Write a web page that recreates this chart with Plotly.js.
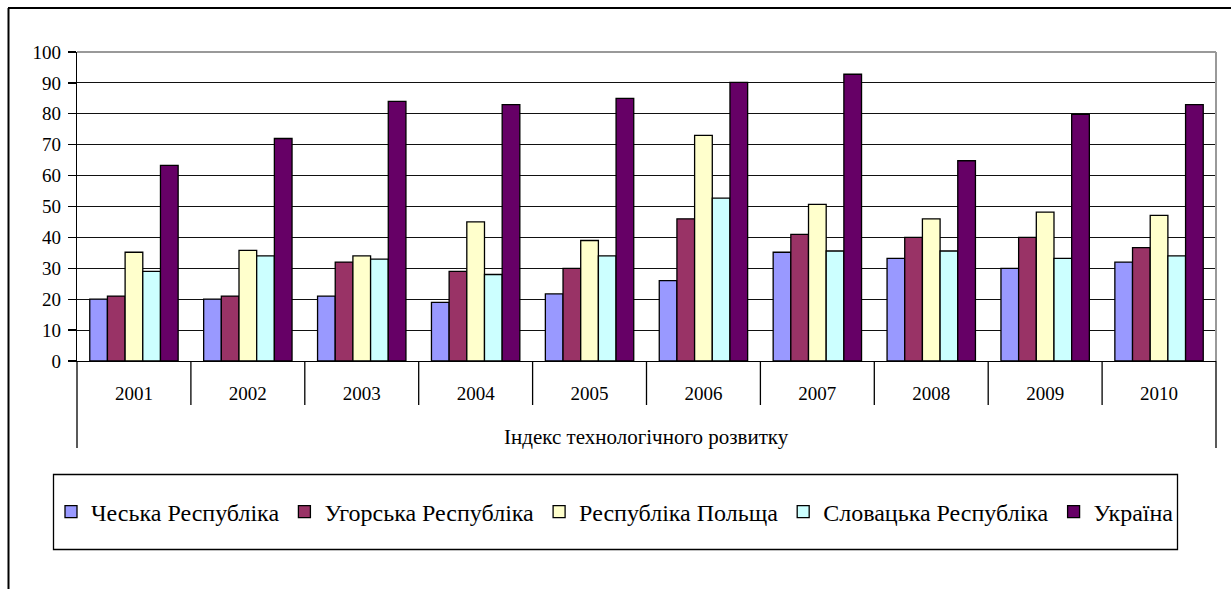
<!DOCTYPE html>
<html>
<head>
<meta charset="utf-8">
<script src="https://cdn.plot.ly/plotly-3.0.1.min.js"></script>
<style>html,body{margin:0;padding:0;background:#fff;}#chart{width:1231px;height:589px;}</style>
</head>
<body>
<div id="chart"></div>
<script>
const years = ['2001','2002','2003','2004','2005','2006','2007','2008','2009','2010'];
const seriesNames = ['Чеська Республіка','Угорська Республіка','Республіка Польща','Словацька Республіка','Україна'];
const czech    = [20, 20, 21, 19, 21.7, 26, 35.2, 33.2, 30, 32];
const hungary  = [21, 21, 32, 29, 30, 46, 41, 40, 40, 36.7];
const poland   = [35.2, 35.8, 34, 45, 39, 73, 50.7, 46, 48.2, 47.1];
const slovakia = [29, 34, 33, 28, 34, 52.7, 35.6, 35.6, 33.2, 34];
const ukraine  = [63.3, 72, 84, 83, 85, 90.2, 92.8, 64.8, 79.8, 83];
const colors = ['#9999FF','#993366','#FFFFCC','#CCFFFF','#660066'];
const axisTitle = 'Індекс технологічного розвитку';

const values = [czech, hungary, poland, slovakia, ukraine];
const FONT = '"Liberation Serif", serif';

const traces = values.map((v, i) => ({
  type: 'bar',
  name: seriesNames[i],
  x: years,
  y: v,
  marker: {color: colors[i], line: {color: '#000', width: 1.3}},
  hoverinfo: 'x+y+name'
}));

// plot area pixel geometry
const L = 77, R = 1216, T = 52, B = 361, W = 1231, H = 589;
const pw = R - L, ph = B - T;
const px = (xp) => (xp - L) / pw;
const py = (yp) => (B - yp) / ph;

const shapes = [];
for (let i = 1; i < years.length; i++) {
  shapes.push({type: 'line', xref: 'x', yref: 'paper', x0: i - 0.5, x1: i - 0.5,
    y0: 0, y1: py(405), line: {color: '#000', width: 1.3}});
}
shapes.push({type: 'line', xref: 'paper', yref: 'paper', x0: 0, x1: 0, y0: 0, y1: py(448), line: {color: '#000', width: 1.3}});
shapes.push({type: 'line', xref: 'paper', yref: 'paper', x0: 1, x1: 1, y0: 0, y1: py(448), line: {color: '#000', width: 1.3}});
shapes.push({type: 'line', xref: 'paper', yref: 'paper', x0: 0, x1: 1, y0: 1, y1: 1, line: {color: '#999', width: 2}});
shapes.push({type: 'line', xref: 'paper', yref: 'paper', x0: 1, x1: 1, y0: 0, y1: 1, line: {color: '#999', width: 2}});
shapes.push({type: 'rect', xref: 'paper', yref: 'paper', x0: px(53.5), x1: px(1177.5), y0: py(474.5), y1: py(549.5),
  line: {color: '#000', width: 1.3}, fillcolor: 'rgba(0,0,0,0)'});
shapes.push({type: 'line', xref: 'paper', yref: 'paper', x0: px(8), x1: px(1231), y0: py(8), y1: py(8), line: {color: '#000', width: 2}});
shapes.push({type: 'line', xref: 'paper', yref: 'paper', x0: px(8.5), x1: px(8.5), y0: py(8), y1: py(589), line: {color: '#000', width: 2}});

const layout = {
  width: W, height: H,
  margin: {l: L, r: W - R, t: T, b: H - B, pad: 0},
  paper_bgcolor: '#fff', plot_bgcolor: '#fff',
  font: {family: FONT, size: 19, color: '#000'},
  barmode: 'group',
  bargap: 0.224,
  bargroupgap: 0,
  showlegend: true,
  legend: {
    orientation: 'h', x: px(615), y: py(512), xanchor: 'center', yanchor: 'middle',
    font: {family: FONT, size: 24, color: '#000'},
    bgcolor: 'rgba(0,0,0,0)', borderwidth: 0, traceorder: 'normal'
  },
  xaxis: {
    type: 'category',
    showgrid: false, zeroline: false,
    showline: true, linecolor: '#000', linewidth: 1.3,
    ticks: '', ticklabelstandoff: 15,
    tickfont: {family: FONT, size: 19, color: '#000'},
    fixedrange: true
  },
  yaxis: {
    range: [0, 100], dtick: 10, tick0: 0,
    showgrid: true, gridcolor: '#111', gridwidth: 1,
    zeroline: false,
    showline: true, linecolor: '#000', linewidth: 1.3,
    ticks: 'outside', ticklen: 8, tickcolor: '#000', tickwidth: 1.3,
    ticklabelstandoff: 3,
    tickfont: {family: FONT, size: 19, color: '#000'},
    fixedrange: true
  },
  annotations: [{
    text: axisTitle, xref: 'paper', yref: 'paper', x: 0.5, y: py(437),
    xanchor: 'center', yanchor: 'middle', showarrow: false,
    font: {family: FONT, size: 21, color: '#000'}
  }],
  shapes: shapes
};

Plotly.newPlot('chart', traces, layout, {displayModeBar: false, staticPlot: true});
</script>
</body>
</html>
